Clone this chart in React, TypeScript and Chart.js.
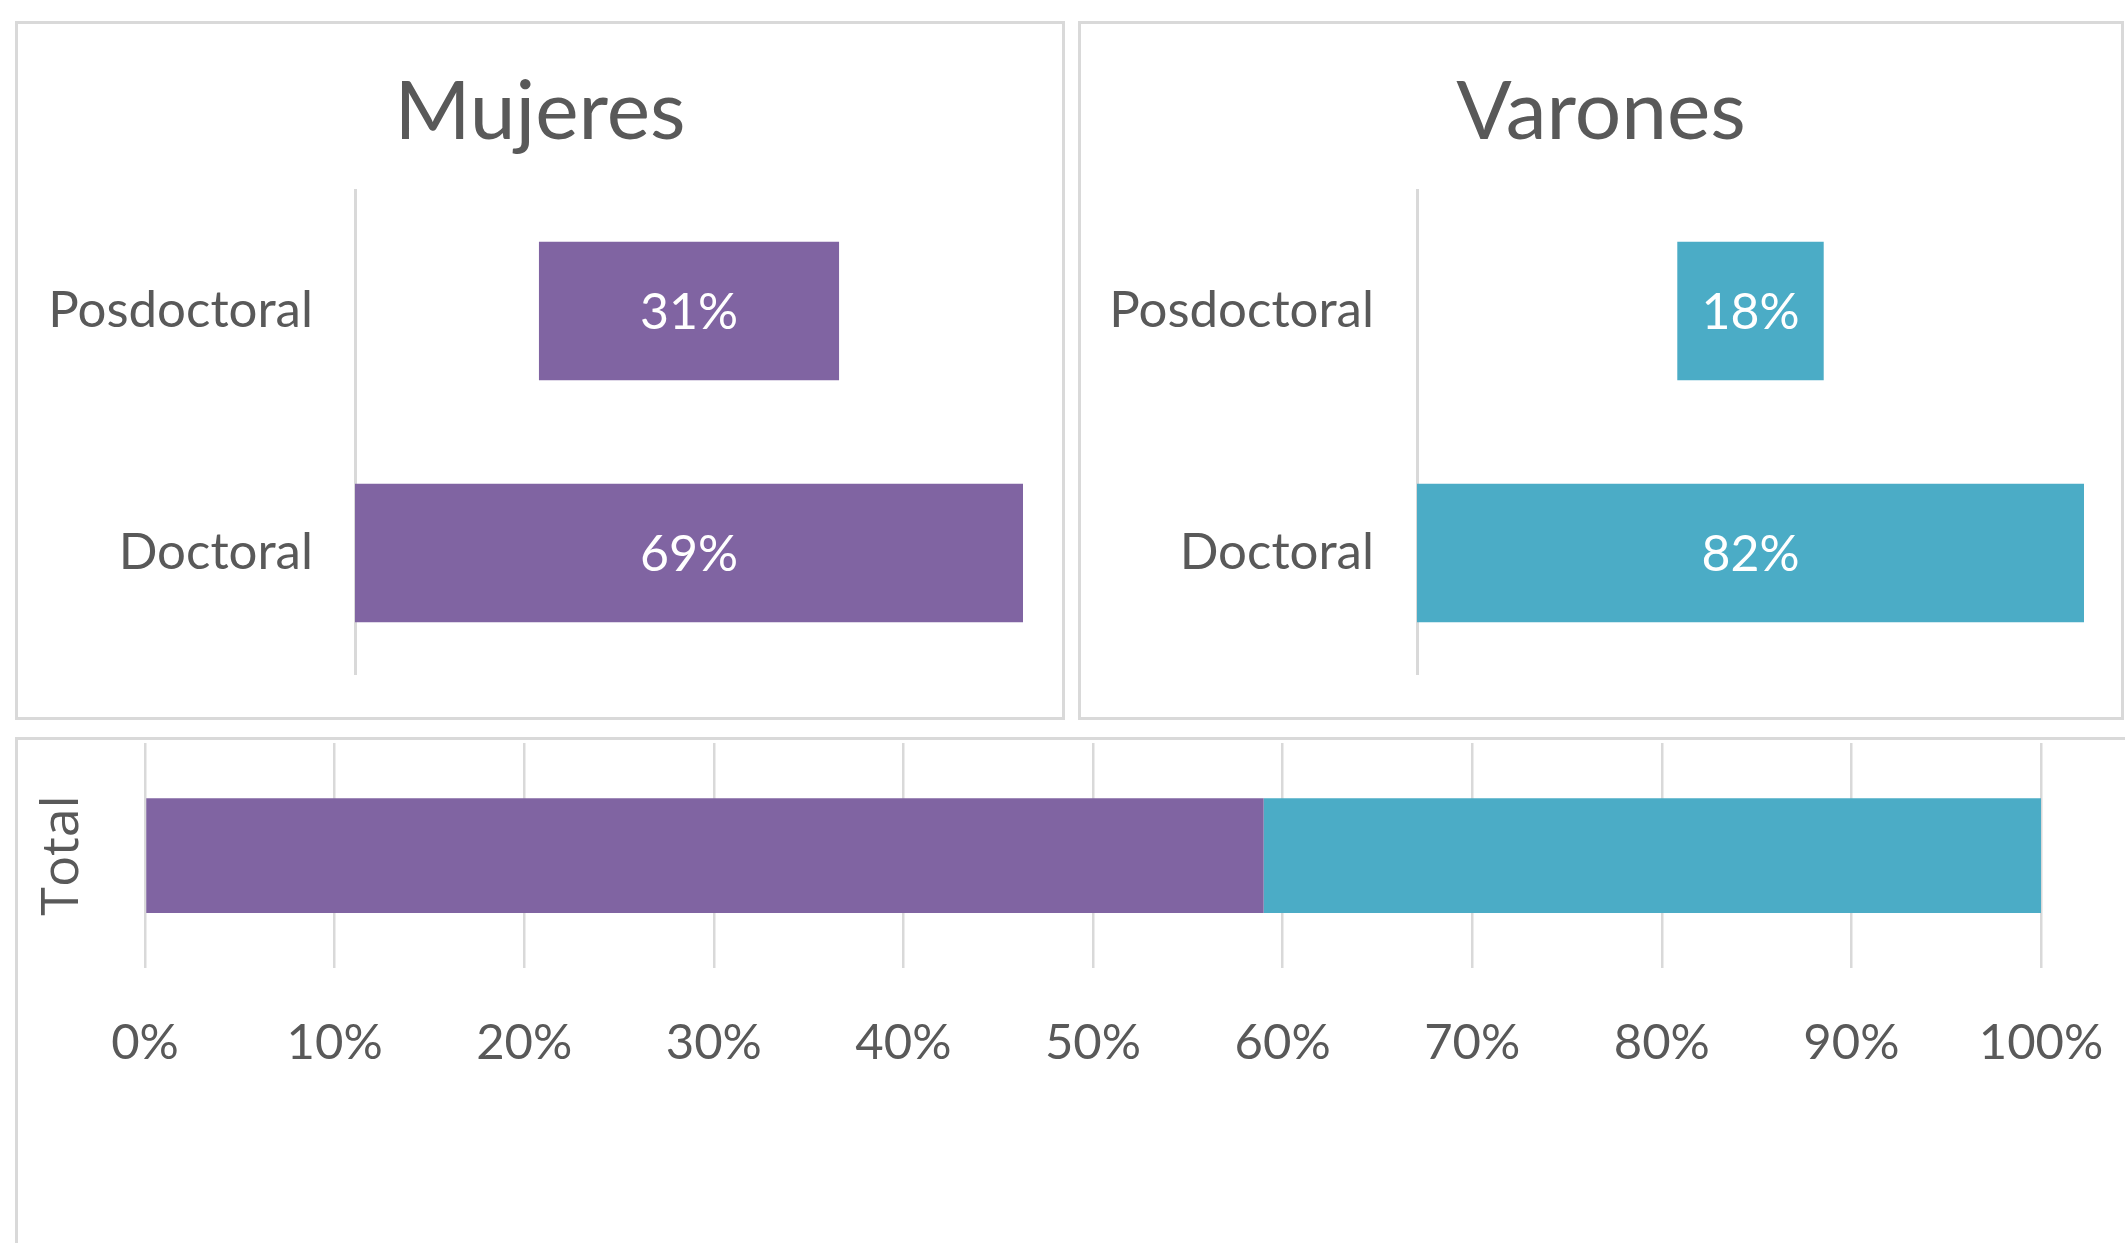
import React, { useEffect, useRef } from 'react';
import { Chart, registerables } from 'chart.js';

Chart.register(...registerables);

// ---- data ----
const categories = ['Posdoctoral', 'Doctoral'];
const mujeresValues = [31, 69];
const varonesValues = [18, 82];
const totalCategories = ['Total'];
const totalMujeres = [59];
const totalVarones = [41];
const panelTitles = ['Mujeres', 'Varones'];
const seriesNames = ['Mujeres', 'Varones'];
const axisMin = 0;
const axisMax = 100;
const axisStep = 10;

const PURPLE = '#8064A2';
const TEAL = '#4BACC6';
const GRID = '#d9d9d9';
const TEXT = '#595959';
const FONT = 'Lato, "Noto Sans", sans-serif';

const centerLabelPlugin = {
  id: 'centerLabels',
  afterDatasetsDraw(chart: any) {
    const ctx = chart.ctx;
    ctx.save();
    ctx.fillStyle = '#ffffff';
    ctx.font = `50px ${FONT}`;
    ctx.textAlign = 'center';
    ctx.textBaseline = 'middle';
    chart.data.datasets.forEach((ds: any, di: number) => {
      const meta = chart.getDatasetMeta(di);
      meta.data.forEach((el: any, i: number) => {
        const p = el.getCenterPoint();
        ctx.fillText(`${ds.rawValues[i]}%`, p.x, p.y + 2);
      });
    });
    ctx.restore();
  },
};

// panel title centred on the whole panel (not only on the plot area)
const panelTitlePlugin = {
  id: 'panelTitle',
  afterDraw(chart: any, _args: any, opts: any) {
    const ctx = chart.ctx;
    ctx.save();
    ctx.fillStyle = TEXT;
    ctx.font = `82px ${FONT}`;
    ctx.textAlign = 'center';
    ctx.textBaseline = 'middle';
    ctx.fillText(opts.text, chart.width / 2, opts.y);
    ctx.restore();
  },
};

type FunnelProps = {
  title: string;
  values: number[];
  color: string;
  left: number;
  top: number;
  width: number;
  height: number;
  axisWidth: number;
  padRight: number;
  padBottom: number;
  labelPad: number;
};

function FunnelPanel(p: FunnelProps) {
  const ref = useRef<HTMLCanvasElement>(null);
  useEffect(() => {
    const max = Math.max(...p.values);
    const chart = new Chart(ref.current!, {
      type: 'bar',
      data: {
        labels: categories,
        datasets: [
          {
            data: p.values.map((v) => [(max - v) / 2, (max + v) / 2]) as any,
            rawValues: p.values,
            backgroundColor: p.color,
            borderWidth: 0,
            barPercentage: 0.572,
            categoryPercentage: 1,
          } as any,
        ],
      },
      options: {
        indexAxis: 'y',
        responsive: false,
        animation: false,
        layout: { padding: { left: 0, right: p.padRight, top: 169, bottom: p.padBottom } },
        plugins: {
          legend: { display: false },
          tooltip: { enabled: false },
          title: { display: false },
          panelTitle: { text: p.title, y: 92 },
        },
        scales: {
          x: { display: false, min: 0, max },
          y: {
            grid: { display: true, color: 'transparent', drawTicks: false },
            border: { display: true, color: GRID, width: 3 },
            ticks: {
              color: TEXT,
              font: { family: FONT, size: 51 },
              padding: p.labelPad,
            },
            afterFit: (s: any) => {
              s.width = p.axisWidth;
              s.paddingTop = 0;
              s.paddingBottom = 0;
            },
          },
        },
      },
      plugins: [centerLabelPlugin, panelTitlePlugin],
    } as any);
    return () => chart.destroy();
  }, []);
  return (
    <>
      <canvas
        ref={ref}
        width={p.width}
        height={p.height}
        style={{ position: 'absolute', left: p.left, top: p.top, width: p.width, height: p.height }}
      />
      <div
        style={{
          position: 'absolute',
          left: p.left,
          top: p.top,
          width: p.width,
          height: p.height,
          border: `3px solid ${GRID}`,
          boxSizing: 'border-box',
          pointerEvents: 'none',
        }}
      />
    </>
  );
}

function TotalPanel() {
  const ref = useRef<HTMLCanvasElement>(null);
  const W = 2115;
  const H = 510;
  useEffect(() => {
    const chart = new Chart(ref.current!, {
      type: 'bar',
      data: {
        labels: totalCategories,
        datasets: [
          {
            label: seriesNames[0],
            data: totalMujeres,
            backgroundColor: PURPLE,
            borderWidth: 0,
            barPercentage: 0.51,
            categoryPercentage: 1,
          },
          {
            label: seriesNames[1],
            data: totalVarones,
            backgroundColor: TEAL,
            borderWidth: 0,
            barPercentage: 0.51,
            categoryPercentage: 1,
          },
        ],
      },
      options: {
        indexAxis: 'y',
        responsive: false,
        animation: false,
        layout: { padding: { left: 0, right: 89, top: 6, bottom: 0 } },
        plugins: { legend: { display: false }, tooltip: { enabled: false } },
        scales: {
          x: {
            stacked: true,
            min: axisMin,
            max: axisMax,
            grid: { color: GRID, lineWidth: 2.5, drawTicks: false },
            border: { display: false },
            ticks: {
              stepSize: axisStep,
              color: TEXT,
              font: { family: FONT, size: 49 },
              padding: 46,
              maxRotation: 0,
              callback: (v: any) => `${v}%`,
            },
            afterFit: (s: any) => {
              s.height = 274 + (H - 505);
              s.paddingLeft = 0;
              s.paddingRight = 0;
            },
          },
          y: {
            stacked: true,
            grid: { display: false },
            border: { display: false },
            ticks: { display: false },
            title: {
              display: true,
              text: totalCategories[0],
              color: TEXT,
              font: { family: '"Open Sans", sans-serif', size: 52 },
              padding: { top: 17, bottom: 0 },
            },
            afterFit: (s: any) => {
              s.width = 130;
              s.paddingTop = 0;
              s.paddingBottom = 0;
            },
          },
        },
      },
    } as any);
    return () => chart.destroy();
  }, []);
  return (
    <>
      <canvas
        ref={ref}
        width={W}
        height={H}
        style={{ position: 'absolute', left: 15, top: 737, width: W, height: H }}
      />
      <div
        style={{
          position: 'absolute',
          left: 15,
          top: 737,
          width: W,
          height: H,
          border: `3px solid ${GRID}`,
          boxSizing: 'border-box',
          pointerEvents: 'none',
        }}
      />
    </>
  );
}

export default function App() {
  return (
    <div
      style={{
        position: 'fixed',
        left: 0,
        top: 0,
        width: 2125,
        height: 1243,
        overflow: 'hidden',
        background: '#ffffff',
      }}
    >
      <FunnelPanel
        title={panelTitles[0]}
        values={mujeresValues}
        color={PURPLE}
        left={15}
        top={21}
        width={1050}
        height={699}
        axisWidth={340}
        padRight={42}
        padBottom={46}
        labelPad={42}
      />
      <FunnelPanel
        title={panelTitles[1]}
        values={varonesValues}
        color={TEAL}
        left={1078}
        top={21}
        width={1046}
        height={699}
        axisWidth={339}
        padRight={40}
        padBottom={46}
        labelPad={43}
      />
      <TotalPanel />
    </div>
  );
}
